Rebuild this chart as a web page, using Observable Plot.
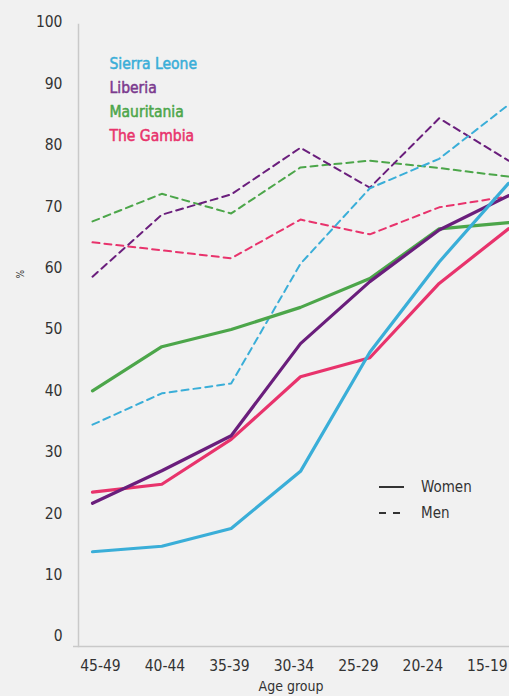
<!DOCTYPE html>
<html><head><meta charset="utf-8">
<script src="https://cdn.jsdelivr.net/npm/d3@7"></script>
<script src="https://cdn.jsdelivr.net/npm/@observablehq/plot@0.6"></script>
<style>
html,body{margin:0;padding:0;background:#f1f1f1;}
#wrap{position:relative;width:509px;height:696px;overflow:hidden;font-family:"DejaVu Sans Condensed","Liberation Sans Narrow",Roboto,sans-serif;color:#333;}
#lineLegend{position:absolute;left:379px;top:474px;font-size:15px;line-height:26px;}
#lineLegend div{display:flex;align-items:center;height:26px;}
#lineLegend svg{margin-right:17px;}
</style></head><body><div id="wrap"></div>
<script>
const ageGroups = ["45-49","40-44","35-39","30-34","25-29","20-24","15-19"];
const countries = ["Sierra Leone","Liberia","Mauritania","The Gambia"];
const lineColors = ["#3aaed8","#6a1e7c","#4ca64a","#e8336c"];
const textColors = ["#3aaed8","#7b3a8e","#4ca64a","#e8336c"];
const yTicks = [0,10,20,30,40,50,60,70,80,90,100];

const sierraLeoneWomen = [13.8,14.7,17.6,26.9,46.3,61.0,73.8];
const liberiaWomen     = [21.7,27.0,32.7,47.7,57.8,66.2,71.8];
const mauritaniaWomen  = [40.0,47.2,50.0,53.6,58.3,66.4,67.4];
const gambiaWomen      = [23.5,24.8,32.1,42.3,45.4,57.5,66.4];

const sierraLeoneMen = [34.5,39.6,41.2,60.7,73.0,77.8,86.6];
const liberiaMen     = [58.6,68.7,72.0,79.6,73.1,84.4,77.5];
const mauritaniaMen  = [67.6,72.1,68.9,76.4,77.5,76.3,74.9];
const gambiaMen      = [64.2,62.9,61.6,67.9,65.5,69.9,71.7];

const womenSeries = [sierraLeoneWomen, liberiaWomen, mauritaniaWomen, gambiaWomen];
const menSeries = [sierraLeoneMen, liberiaMen, mauritaniaMen, gambiaMen];

function rows(series, sex) {
  const out = [];
  series.forEach((vals, c) => vals.forEach((v, i) => out.push({country: countries[c], sex, idx: i, age: ageGroups[i], value: v})));
  return out;
}
const womenRows = rows(womenSeries, "Women");
const menRows = rows(menSeries, "Men");
const drawOrder = ["The Gambia","Mauritania","Liberia","Sierra Leone"];
womenRows.sort((a,b)=>drawOrder.indexOf(a.country)-drawOrder.indexOf(b.country));
menRows.sort((a,b)=>drawOrder.indexOf(a.country)-drawOrder.indexOf(b.country));

// tick labels sit on a slightly narrower spacing than the data points in the original
const labelStep = 0.93, labelOffset = 0.115;
const fontFamily = '"DejaVu Sans Condensed","Liberation Sans Narrow",Roboto,sans-serif';

const chart = Plot.plot({
  width: 509, height: 696,
  marginLeft: 78, marginRight: 0, marginTop: 24, marginBottom: 50,
  style: {background: "transparent", fontSize: "15.5px", fontFamily, color: "#333", overflow: "visible"},
  x: {type: "linear", domain: [0, 6], range: [92, 508]},
  y: {domain: [0, 100], range: [636, 22]},
  color: {domain: countries, range: lineColors},
  marks: [
    Plot.frame({anchor: "left", stroke: "#c9c9c9", strokeWidth: 1.5}),
    Plot.ruleY([0], {dy: 10, stroke: "#c9c9c9", strokeWidth: 1.5, insetLeft: -5}),
    Plot.axisY({ticks: yTicks, tickSize: 0, tickPadding: 16, label: null, fontSize: 15.5}),
    Plot.axisX({ticks: ageGroups.map((d, i) => i * labelStep + labelOffset), tickFormat: d => ageGroups[Math.round((d - labelOffset) / labelStep)], tickSize: 0, tickPadding: 13, label: null, fontSize: 15.5}),
    Plot.line(menRows, {x: "idx", y: "value", z: "country", stroke: "country", strokeWidth: 2, strokeDasharray: "7,5"}),
    Plot.line(womenRows, {x: "idx", y: "value", z: "country", stroke: "country", strokeWidth: 3.2}),
    ...countries.map((c, i) => Plot.text([c], {frameAnchor: "top-left", dx: 31, dy: 33 + i * 24, text: d => d, fill: textColors[i], stroke: textColors[i], strokeWidth: 0.5, fontSize: 15.5, textAnchor: "start"})),
    Plot.text(["%"], {frameAnchor: "top-left", dx: -62, dy: 254, text: d => d, rotate: -90, fontSize: 10}),
    Plot.text(["Age group"], {frameAnchor: "bottom", dx: -3, dy: 44, text: d => d, fontSize: 14})
  ]
});
const wrap = document.getElementById("wrap");
wrap.appendChild(chart);

const legend = document.createElement("div");
legend.id = "lineLegend";
legend.innerHTML = `
<div><svg width="25" height="4"><line x1="0" x2="25" y1="2" y2="2" stroke="#333" stroke-width="2"/></svg><span>Women</span></div>
<div><svg width="25" height="4"><line x1="0" x2="25" y1="2" y2="2" stroke="#333" stroke-width="2" stroke-dasharray="7,7"/></svg><span>Men</span></div>`;
wrap.appendChild(legend);
</script></body></html>
